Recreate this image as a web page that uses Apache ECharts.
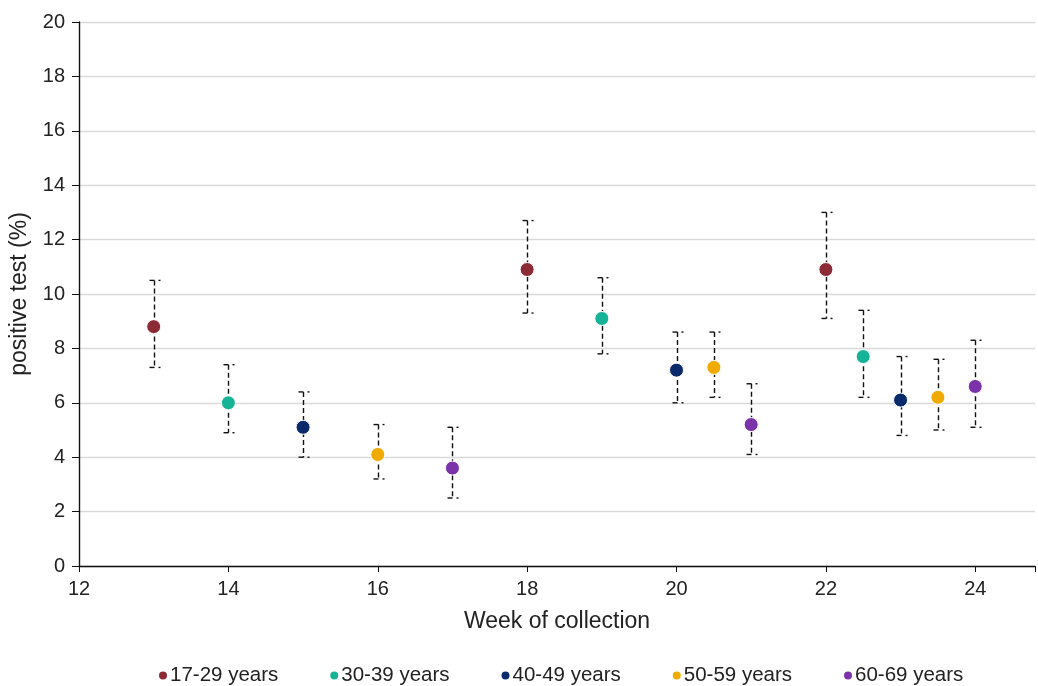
<!DOCTYPE html>
<html>
<head>
<meta charset="utf-8">
<script src="https://cdn.jsdelivr.net/npm/echarts@6/dist/echarts.min.js"></script>
<style>
  html, body { margin: 0; padding: 0; background: #fff; }
  #chart { width: 1038px; height: 686px; }
</style>
</head>
<body>
<div id="chart"></div>
<script>
// age groups and colours
const groups = ['17-29 years', '30-39 years', '40-49 years', '50-59 years', '60-69 years'];
const colors = ['#8c2a35', '#17b397', '#0b2a6b', '#f0aa00', '#7a33a8'];

// week of collection per group
const weeks1729 = [13, 18, 22];
const weeks3039 = [14, 19, 22.5];
const weeks4049 = [15, 20, 23];
const weeks5059 = [16, 20.5, 23.5];
const weeks6069 = [17, 21, 24];

// positive test (%) per group
const vals1729 = [8.8, 10.9, 10.9];
const vals3039 = [6.0, 9.1, 7.7];
const vals4049 = [5.1, 7.2, 6.1];
const vals5059 = [4.1, 7.3, 6.2];
const vals6069 = [3.6, 5.2, 6.6];

// lower / upper confidence limits
const low1729 = [7.3, 9.3, 9.1];
const high1729 = [10.5, 12.7, 13.0];
const low3039 = [4.9, 7.8, 6.2];
const high3039 = [7.4, 10.6, 9.4];
const low4049 = [4.0, 6.0, 4.8];
const high4049 = [6.4, 8.6, 7.7];
const low5059 = [3.2, 6.2, 5.0];
const high5059 = [5.2, 8.6, 7.6];
const low6069 = [2.5, 4.1, 5.1];
const high6069 = [5.1, 6.7, 8.3];

const yTicks = [0, 2, 4, 6, 8, 10, 12, 14, 16, 18, 20];
const xTicks = [12, 14, 16, 18, 20, 22, 24];

const weeks = [weeks1729, weeks3039, weeks4049, weeks5059, weeks6069];
const vals = [vals1729, vals3039, vals4049, vals5059, vals6069];
const lows = [low1729, low3039, low4049, low5059, low6069];
const highs = [high1729, high3039, high4049, high5059, high6069];

const font = 'Liberation Sans, Arial, sans-serif';

// error bar data: [x, low, high]
const barData = [];
weeks.forEach((w, g) => w.forEach((x, i) => barData.push([x, lows[g][i], highs[g][i]])));

function renderBar(params, api) {
  const top = api.coord([api.value(0), api.value(2)]);
  const bot = api.coord([api.value(0), api.value(1)]);
  const x = Math.round(top[0]) + 0.5;
  const st = { stroke: '#111', lineWidth: 1.4 };
  const children = [
    { type: 'line', shape: { x1: x, y1: top[1], x2: x, y2: bot[1] },
      style: Object.assign({ lineDash: [5, 3] }, st) }
  ];
  [top[1], bot[1]].forEach(y => {
    children.push({ type: 'line', shape: { x1: x - 5, y1: y, x2: x, y2: y }, style: st });
    children.push({ type: 'line', shape: { x1: x + 4, y1: y, x2: x + 6, y2: y }, style: st });
  });
  return { type: 'group', children: children };
}

const series = [{
  type: 'custom',
  renderItem: renderBar,
  data: barData,
  z: 1,
  silent: true
}];
groups.forEach((name, g) => {
  series.push({
    name: name,
    type: 'scatter',
    symbolSize: 14,
    z: 3,
    itemStyle: { color: colors[g], borderColor: '#fff', borderWidth: 1, opacity: 1 },
    data: weeks[g].map((x, i) => [x, vals[g][i]])
  });
});

const chart = echarts.init(document.getElementById('chart'));
chart.setOption({
  animation: false,
  backgroundColor: '#fff',
  grid: { left: 74, top: 22, right: 3, bottom: 120 },
  xAxis: {
    type: 'value',
    min: 12,
    max: 24.8,
    interval: 2,
    name: 'Week of collection',
    nameLocation: 'middle',
    nameGap: 44,
    nameTextStyle: { fontFamily: font, fontSize: 23, color: '#222' },
    splitLine: { show: false },
    axisLine: { lineStyle: { color: '#111', width: 1.4 } },
    axisTick: { show: true, length: 6, lineStyle: { color: '#111' } },
    axisLabel: {
      fontFamily: font, fontSize: 20, color: '#222', margin: 13,
      formatter: v => xTicks.includes(v) ? String(v) : ''
    }
  },
  yAxis: {
    type: 'value',
    min: 0,
    max: 20,
    interval: 2,
    name: 'positive test (%)',
    nameLocation: 'middle',
    nameGap: 48,
    nameTextStyle: { fontFamily: font, fontSize: 23, color: '#222' },
    axisLine: { show: true, lineStyle: { color: '#111', width: 1.4 } },
    axisTick: { show: true, length: 7, lineStyle: { color: '#111' } },
    axisLabel: {
      fontFamily: font, fontSize: 20, color: '#222', margin: 14,
      formatter: v => yTicks.includes(v) ? String(v) : ''
    },
    splitLine: { lineStyle: { color: '#d9d9d9', width: 1.3 } }
  },
  legend: {
    data: groups,
    top: 660,
    left: 152,
    icon: 'circle',
    itemWidth: 10,
    itemHeight: 10,
    itemGap: 50,
    textStyle: { fontFamily: font, fontSize: 20.5, color: '#222', padding: [0, 0, 0, -3] }
  },
  series: series
});
</script>
</body>
</html>
